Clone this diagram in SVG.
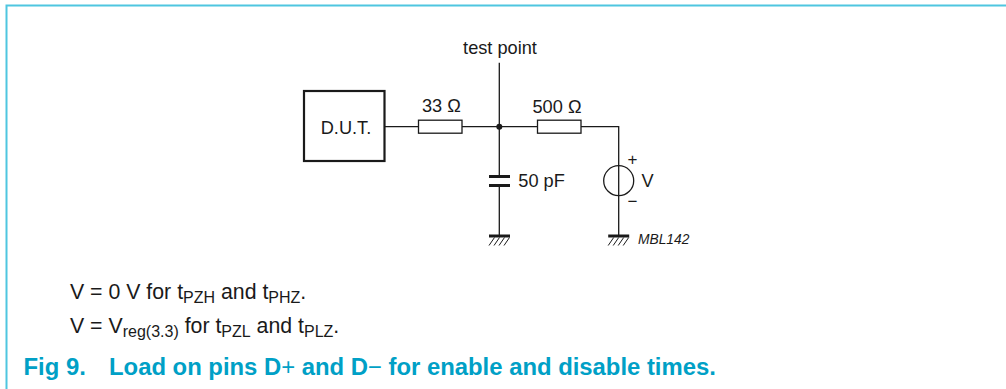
<svg xmlns="http://www.w3.org/2000/svg" width="1006" height="389" viewBox="0 0 1006 389">
<style>
text{font-family:"Liberation Sans",Arial,sans-serif;fill:#1a1a1a;font-size:18.200px}
.w{fill:none;stroke:#1a1a1a;stroke-width:1.3}
.r{fill:#fff;stroke:#1a1a1a;stroke-width:1.3}
.t{stroke:#1a1a1a;stroke-width:3;fill:none}
.h{fill:none;stroke:#1a1a1a;stroke-width:1}
.body{font-size:21.300px}
.sub{font-size:16px}
.pm{font-size:17px}
.ref{font-size:13.800px;font-style:italic}
.cap{font-weight:bold;font-size:23.850px;fill:#00a0c6}
</style>
<defs>
<g id="gnd"><path class="t" d="M-10.500 0H10.500"/><path class="h" d="M-5 1.500L-10.500 9.500M0 1.500L-5.500 9.500M5 1.500L-.5 9.500M10 1.500L4.500 9.500"/></g>
</defs>
<path d="M6.500 389V5.500H1006" fill="none" stroke="#4fc6e0" stroke-width="2"/>
<g id="connectors">
<path class="w" d="M385 126.700H418.500M462 126.700H537.500M581 126.700H618.700V235M499.300 62.700V176M499.300 185V235"/>
<circle cx="499.300" cy="126.700" r="3" fill="#1a1a1a"/>
</g>
<g id="dut"><rect x="304" y="91" width="80.500" height="70" fill="#fff" stroke="#1a1a1a" stroke-width="2.200"/><text x="346" y="133.700" text-anchor="middle">D.U.T.</text></g>
<g id="test-point"><text x="500" y="54.300" text-anchor="middle">test point</text></g>
<g id="r33"><rect class="r" x="418.500" y="120.200" width="43.500" height="13"/><text x="422" y="112.300">33 Ω</text></g>
<g id="r500"><rect class="r" x="537.500" y="120.200" width="43.500" height="13"/><text x="532.500" y="112.800">500 Ω</text></g>
<g id="cap"><path class="t" d="M489 176.500H510M489 185.500H510"/><text x="518.300" y="187">50 pF</text></g>
<g id="source"><circle class="w" cx="618.700" cy="180.700" r="15"/><text x="641.500" y="187">V</text><text class="pm" x="627.500" y="165">+</text><text class="pm" x="627.500" y="207">−</text></g>
<g id="gnd1"><use href="#gnd" x="499.500" y="236"/></g>
<g id="gnd2"><use href="#gnd" x="618.700" y="236"/></g>
<g id="ref"><text class="ref" x="638" y="244.300">MBL142</text></g>
<text class="body" x="70" y="299.300">V = 0 V for t<tspan class="sub" dy="4">PZH</tspan><tspan dy="-4"> and t</tspan><tspan class="sub" dy="4">PHZ</tspan><tspan dy="-4">.</tspan></text>
<text class="body" x="70" y="333.300">V = V<tspan class="sub" dy="4">reg(3.3)</tspan><tspan dy="-4"> for t</tspan><tspan class="sub" dy="4">PZL</tspan><tspan dy="-4"> and t</tspan><tspan class="sub" dy="4">PLZ</tspan><tspan dy="-4">.</tspan></text>
<text class="cap" x="23.500" y="375">Fig 9.</text>
<text class="cap" x="109" y="375">Load on pins D<tspan font-weight="normal">+</tspan> and D<tspan font-weight="normal">−</tspan> for enable and disable times.</text>
</svg>
